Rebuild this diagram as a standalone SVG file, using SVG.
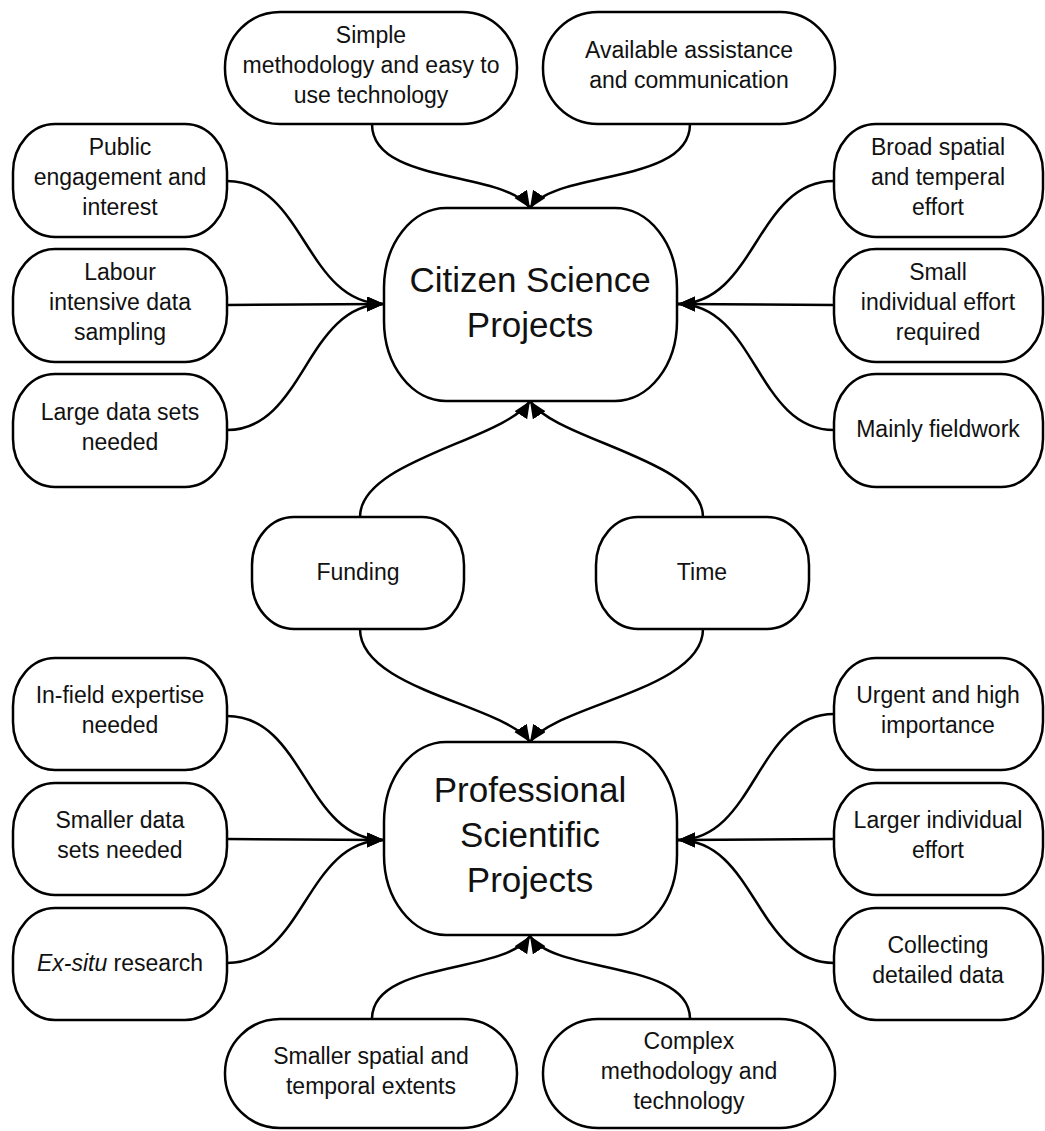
<svg xmlns="http://www.w3.org/2000/svg" width="1045" height="1131" viewBox="0 0 1045 1131">
<defs>
<style>
.n rect{fill:#fff;stroke:#000;stroke-width:2.5}
.n text{font-family:"Liberation Sans",Arial,sans-serif;font-size:23px;text-anchor:middle;fill:#111}
.n text.big{font-size:35px}
.c path{fill:none;stroke:#000;stroke-width:2.5;marker-end:url(#ah)}
</style>
<marker id="ah" markerUnits="userSpaceOnUse" markerWidth="19" markerHeight="16" refX="17" refY="7.5" orient="auto"><path d="M0,0 L17,7.5 L0,15 z" fill="#000"/></marker>
</defs>
<rect width="1045" height="1131" fill="#fff"/>
<g id="connectors" class="c">
<path d="M372,124 C372,185 505,170 530,208"/>
<path d="M690,124 C690,185 555,170 530,208"/>
<path d="M227,181 C305,181 305,304 384,304"/>
<path d="M227,305 L384,304"/>
<path d="M227,430 C305,430 305,304 384,304"/>
<path d="M834,181 C756,181 756,304 678,304"/>
<path d="M834,305 L678,304"/>
<path d="M834,430 C756,430 756,304 678,304"/>
<path d="M360,517 C360,460 505,440 530,401"/>
<path d="M703,517 C703,460 555,440 530,401"/>
<path d="M360,629 C360,690 505,705 530,742"/>
<path d="M703,629 C703,690 555,705 530,742"/>
<path d="M227,716 C305,716 305,840 384,840"/>
<path d="M227,839 L384,840"/>
<path d="M227,963 C305,963 305,840 384,840"/>
<path d="M834,714 C756,714 756,840 678,840"/>
<path d="M834,839 L678,840"/>
<path d="M834,963 C756,963 756,840 678,840"/>
<path d="M372,1019 C372,960 505,975 530,936"/>
<path d="M690,1019 C690,960 555,975 530,936"/>
</g>
<g id="n-simple" class="n"><rect x="225" y="12" width="292" height="112" rx="55" ry="55"/><text x="371" y="43">Simple</text><text x="371" y="73">methodology and easy to</text><text x="371" y="103">use technology</text></g>
<g id="n-available" class="n"><rect x="543" y="12" width="292" height="112" rx="55" ry="55"/><text x="689" y="58">Available assistance</text><text x="689" y="88">and communication</text></g>
<g id="n-public" class="n"><rect x="13" y="124" width="214" height="113" rx="42" ry="48"/><text x="120" y="155">Public</text><text x="120" y="185">engagement and</text><text x="120" y="215">interest</text></g>
<g id="n-labour" class="n"><rect x="13" y="249" width="214" height="113" rx="42" ry="48"/><text x="120" y="280">Labour</text><text x="120" y="310">intensive data</text><text x="120" y="340">sampling</text></g>
<g id="n-large" class="n"><rect x="13" y="374" width="214" height="113" rx="42" ry="48"/><text x="120" y="420">Large data sets</text><text x="120" y="450">needed</text></g>
<g id="n-broad" class="n"><rect x="834" y="124" width="209" height="113" rx="42" ry="48"/><text x="938" y="155">Broad spatial</text><text x="938" y="185">and temperal</text><text x="938" y="215">effort</text></g>
<g id="n-small" class="n"><rect x="834" y="249" width="209" height="113" rx="42" ry="48"/><text x="938" y="280">Small</text><text x="938" y="310">individual effort</text><text x="938" y="340">required</text></g>
<g id="n-mainly" class="n"><rect x="834" y="374" width="209" height="113" rx="42" ry="48"/><text x="938" y="437">Mainly fieldwork</text></g>
<g id="n-citizen" class="n"><rect x="384" y="208" width="293" height="193" rx="62" ry="80"/><text class="big" x="530" y="292">Citizen Science</text><text class="big" x="530" y="337">Projects</text></g>
<g id="n-funding" class="n"><rect x="252" y="517" width="212" height="112" rx="42" ry="48"/><text x="358" y="580">Funding</text></g>
<g id="n-time" class="n"><rect x="596" y="517" width="213" height="112" rx="42" ry="48"/><text x="702" y="580">Time</text></g>
<g id="n-professional" class="n"><rect x="384" y="742" width="293" height="193" rx="62" ry="80"/><text class="big" x="530" y="802">Professional</text><text class="big" x="530" y="847">Scientific</text><text class="big" x="530" y="892">Projects</text></g>
<g id="n-infield" class="n"><rect x="13" y="658" width="214" height="112" rx="42" ry="48"/><text x="120" y="703">In-field expertise</text><text x="120" y="733">needed</text></g>
<g id="n-smallerdata" class="n"><rect x="13" y="783" width="214" height="112" rx="42" ry="48"/><text x="120" y="828">Smaller data</text><text x="120" y="858">sets needed</text></g>
<g id="n-exsitu" class="n"><rect x="13" y="908" width="214" height="112" rx="42" ry="48"/><text x="120" y="971"><tspan font-style="italic">Ex-situ</tspan> research</text></g>
<g id="n-urgent" class="n"><rect x="834" y="658" width="209" height="112" rx="42" ry="48"/><text x="938" y="703">Urgent and high</text><text x="938" y="733">importance</text></g>
<g id="n-larger" class="n"><rect x="834" y="783" width="209" height="112" rx="42" ry="48"/><text x="938" y="828">Larger individual</text><text x="938" y="858">effort</text></g>
<g id="n-collecting" class="n"><rect x="834" y="908" width="209" height="112" rx="42" ry="48"/><text x="938" y="953">Collecting</text><text x="938" y="983">detailed data</text></g>
<g id="n-smallerspatial" class="n"><rect x="225" y="1019" width="292" height="109" rx="55" ry="54"/><text x="371" y="1064">Smaller spatial and</text><text x="371" y="1094">temporal extents</text></g>
<g id="n-complex" class="n"><rect x="543" y="1019" width="292" height="109" rx="55" ry="54"/><text x="689" y="1049">Complex</text><text x="689" y="1079">methodology and</text><text x="689" y="1109">technology</text></g>
</svg>
